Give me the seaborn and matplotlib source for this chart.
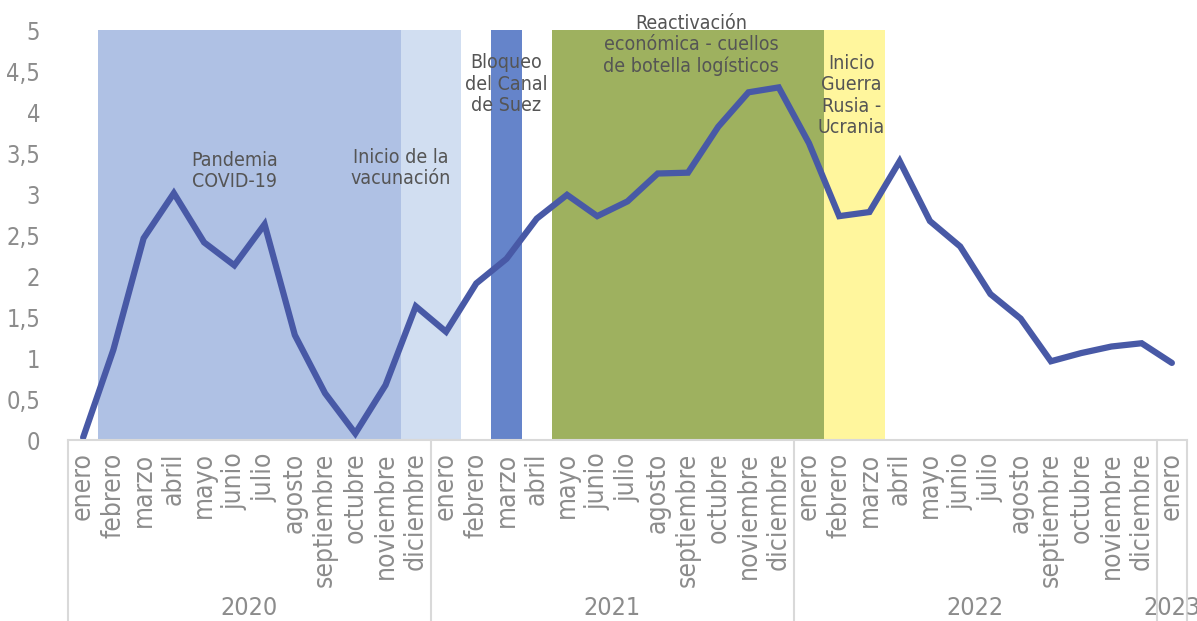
import numpy as np
import pandas as pd
import matplotlib.pyplot as plt
import seaborn as sns
from matplotlib.transforms import blended_transform_factory

# datos
meses = ['enero', 'febrero', 'marzo', 'abril', 'mayo', 'junio', 'julio',
         'agosto', 'septiembre', 'octubre', 'noviembre', 'diciembre']
etiquetas_mes = meses * 3 + ['enero']
anios = ['2020', '2021', '2022', '2023']
anio_inicio = [0, 12, 24, 36]
anio_fin = [11, 23, 35, 36]
valores = [0.03, 1.10, 2.46, 3.01, 2.41, 2.13, 2.63, 1.28, 0.57, 0.08, 0.67, 1.63,
           1.32, 1.91, 2.21, 2.70, 2.99, 2.73, 2.91, 3.25, 3.26, 3.82, 4.24, 4.30,
           3.62, 2.73, 2.78, 3.40, 2.67, 2.36, 1.78, 1.48, 0.96, 1.06, 1.14, 1.18, 0.94]
y_ticks = [0, 0.5, 1, 1.5, 2, 2.5, 3, 3.5, 4, 4.5, 5]
y_labels = ['0', '0,5', '1', '1,5', '2', '2,5', '3', '3,5', '4', '4,5', '5']

periodos = ['Pandemia\nCOVID-19', 'Inicio de la\nvacunación',
            'Bloqueo\ndel Canal\nde Suez',
            'Reactivación\neconómica - cuellos\nde botella logísticos',
            'Inicio\nGuerra\nRusia -\nUcrania']
periodo_inicio = [1, 11, 14, 16, 25]
periodo_fin = [10, 12, 14, 24, 26]
periodo_altura = [5, 5, 5, 5, 5]

# estilo
colores_periodo = ['#AFC1E4', '#D1DEF1', '#6584CA', '#9EB15F', '#FFF69D']
texto_pos = [(5.0, 3.28), (10.5, 3.32), (14.0, 4.34), (20.1, 4.82), (25.4, 4.20)]
color_linea = '#4859A6'
gris_eje = '#D9D9D9'
gris_texto = '#8C8C8C'

sns.set_theme(style='white')
plt.rcParams['font.family'] = ['DejaVu Sans']
plt.rcParams['font.stretch'] = 'condensed'
plt.rcParams['font.weight'] = 'light'

df = pd.DataFrame({'idx': np.arange(len(valores)), 'valor': valores})

fig = plt.figure(figsize=(11.97, 6.21), dpi=100)
ax = fig.add_axes([68 / 1197, 181 / 621, (1187 - 68) / 1197, 410 / 621])

for ini, fin, alt, col in zip(periodo_inicio, periodo_fin, periodo_altura, colores_periodo):
    ax.fill_between([ini - 0.5, fin + 0.5], 0, alt, color=col, lw=0, zorder=1)

sns.lineplot(data=df, x='idx', y='valor', color=color_linea, linewidth=4.5,
             ax=ax, zorder=3)
ax.lines[-1].set_solid_capstyle('round')
ax.lines[-1].set_solid_joinstyle('miter')

for txt, (tx, ty) in zip(periodos, texto_pos):
    ax.text(tx, ty, txt, ha='center', va='center', multialignment='center',
            fontsize=14, color='#555555', linespacing=1.15, zorder=4)

ax.set_xlim(-0.5, len(valores) - 0.5)
ax.set_ylim(0, 5)
ax.set_yticks(y_ticks)
ax.set_yticklabels(y_labels, fontsize=17, color=gris_texto)
ax.set_xticks(np.arange(len(valores)))
ax.set_xticklabels(etiquetas_mes, rotation=90, va='top', ha='center',
                   fontsize=19, color=gris_texto)
ax.set_xticks(np.arange(-0.5, len(valores), 1), minor=True)
ax.tick_params(axis='y', length=0, pad=20)
ax.tick_params(axis='x', which='major', length=0, pad=9)
ax.tick_params(axis='x', which='minor', length=5, width=1.2, color=gris_eje,
               direction='out')
ax.set_xlabel('')
ax.set_ylabel('')

for s in ['left', 'right', 'top']:
    ax.spines[s].set_visible(False)
ax.spines['bottom'].set_color(gris_eje)
ax.spines['bottom'].set_linewidth(1.5)
ax.spines['bottom'].set_zorder(5)

trans = blended_transform_factory(ax.transData, ax.transAxes)
for sep in [anio_inicio[0] - 0.5] + [f + 0.5 for f in anio_fin]:
    ax.plot([sep, sep], [0, -0.45], transform=trans, color=gris_eje, lw=1.5,
            clip_on=False)
for nombre, ini, fin in zip(anios, anio_inicio, anio_fin):
    ax.text((ini + fin) / 2, -0.41, nombre, transform=trans, ha='center',
            va='center', fontsize=18, color=gris_texto)

fig.savefig('out.png', dpi=100)
